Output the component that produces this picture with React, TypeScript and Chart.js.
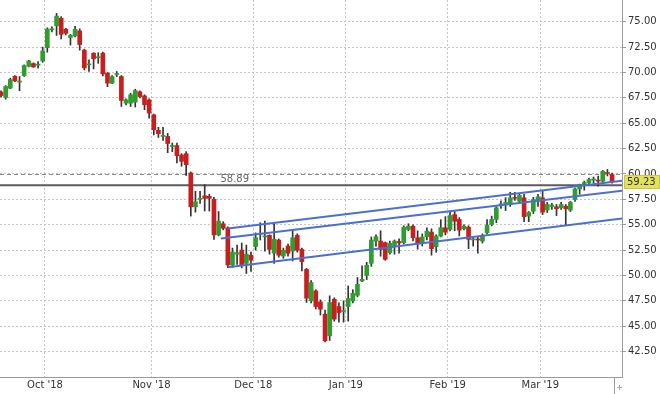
import React, { useEffect, useRef } from "react";
import { Chart, registerables } from "chart.js";

Chart.register(...registerables);

// ---- Data (daily candles, index = trading day) ----
const openP = [
  68.06, 67.54, 68.45, 69.63, 69.05, 69.7, 70.62, 70.88, 70.72, 71.14,
  72.45, 74.2, 74.6, 75.35, 74.25, 73.45, 73.6, 74.1, 72.2, 70.75,
  71.9, 71.45, 71.9, 69.93, 68.95, 69.8, 69.6, 66.98, 66.98, 67.08,
  68.1, 67.7, 67.3, 65.83, 64.3, 63.7, 63.7, 62.7, 62.8, 61.88,
  62.0, 60.1, 56.77, 57.5, 57.85, 57.8, 57.5, 54.0, 55.1, 54.7,
  51.03, 52.1, 52.5, 51.2, 52.0, 52.84, 54.05, 53.8, 53.97, 52.2,
  53.49, 51.92, 52.9, 52.41, 53.95, 52.57, 50.6, 47.5, 48.48, 47.4,
  46.19, 44.06, 47.66, 46.94, 46.45, 46.94, 47.5, 48.05, 49.46, 50.02,
  51.2, 53.39, 53.39, 53.23, 52.25, 52.9, 53.35, 53.23, 54.54, 54.86,
  53.72, 53.23, 53.82, 54.27, 52.84, 53.88, 54.71, 54.54, 56.0, 55.52,
  54.6, 54.76, 53.5, 53.6, 53.39, 54.21, 55.03, 55.52, 56.95, 57.1,
  57.0, 57.7, 57.32, 57.65, 55.85, 56.34, 57.32, 57.65, 56.45, 56.8,
  56.77, 56.67, 56.83, 56.44, 57.49, 58.53, 59.05, 59.13, 59.4, 59.4,
  59.29, 60.15, 59.94,
];
const highP = [
  68.2, 68.7, 69.44, 69.7, 69.6, 70.75, 71.2, 70.95, 71.07, 72.5,
  74.4, 74.5, 75.82, 75.5, 74.35, 73.75, 74.55, 74.3, 72.3, 71.25,
  71.95, 71.95, 72.0, 70.0, 69.7, 70.1, 69.7, 67.4, 67.95, 68.35,
  68.2, 67.8, 67.4, 65.9, 64.6, 64.6, 64.0, 63.05, 63.05, 62.0,
  62.2, 60.2, 58.3, 58.3, 58.95, 58.0, 57.7, 56.3, 55.3, 54.8,
  52.7, 53.0, 53.2, 53.0, 52.3, 54.2, 55.2, 55.35, 54.0, 55.1,
  53.6, 52.7, 53.1, 54.4, 54.1, 52.7, 50.7, 49.5, 48.6, 47.6,
  46.6, 48.0, 47.8, 47.3, 47.5, 48.97, 48.6, 49.8, 50.95, 51.3,
  53.8, 54.0, 54.4, 53.3, 53.4, 53.5, 53.6, 54.9, 55.1, 55.0,
  54.4, 54.1, 54.7, 54.6, 54.0, 55.5, 55.8, 56.34, 56.3, 55.7,
  55.0, 54.9, 53.8, 53.8, 54.1, 55.5, 55.85, 56.8, 57.35, 57.67,
  58.2, 58.2, 58.1, 58.0, 56.3, 57.7, 58.0, 58.3, 57.2, 57.1,
  57.0, 57.2, 57.0, 57.3, 58.6, 59.0, 59.3, 59.6, 59.7, 59.8,
  60.35, 60.45, 60.1,
];
const lowP = [
  67.6, 67.37, 68.4, 69.1, 68.2, 69.6, 70.55, 70.5, 70.42, 71.0,
  72.0, 74.0, 73.65, 73.3, 73.7, 72.7, 73.5, 72.2, 70.25, 70.1,
  70.35, 70.9, 69.65, 68.6, 68.9, 69.6, 66.65, 66.8, 66.65, 66.6,
  67.5, 66.33, 65.5, 63.85, 63.6, 63.3, 62.1, 62.2, 61.1, 60.76,
  59.85, 55.85, 56.24, 57.1, 56.35, 56.35, 53.55, 53.9, 54.5, 50.78,
  50.8, 51.1, 50.75, 50.2, 50.4, 52.5, 53.5, 52.4, 52.1, 51.2,
  51.8, 51.7, 51.9, 51.43, 52.3, 50.45, 47.34, 47.3, 46.7, 46.1,
  43.45, 43.6, 45.5, 45.4, 45.4, 45.5, 47.3, 47.9, 49.4, 49.6,
  50.9, 52.9, 51.9, 51.5, 52.1, 52.1, 52.2, 53.1, 54.4, 53.4,
  52.6, 52.9, 53.5, 52.0, 52.3, 53.8, 54.0, 54.4, 54.4, 53.9,
  54.5, 52.64, 52.9, 52.2, 53.2, 54.1, 54.9, 55.2, 56.6, 56.4,
  56.8, 57.4, 57.2, 55.3, 55.3, 56.1, 56.8, 56.0, 56.2, 56.5,
  55.9, 56.5, 54.93, 56.3, 57.3, 58.0, 58.4, 58.9, 59.1, 58.8,
  59.2, 59.8, 59.1,
];
const closeP = [
  67.73, 68.62, 69.31, 69.17, 69.12, 70.68, 71.14, 70.55, 70.78, 72.12,
  74.28, 74.3, 75.56, 73.76, 73.86, 73.65, 74.25, 72.75, 70.45, 70.85,
  71.35, 71.55, 69.86, 68.95, 69.6, 69.9, 67.24, 67.31, 67.8, 68.22,
  67.63, 66.82, 66.0, 64.36, 63.97, 63.8, 63.0, 62.8, 61.8, 61.25,
  60.92, 56.77, 57.26, 57.6, 57.6, 57.6, 54.0, 55.35, 54.65, 51.03,
  52.31, 52.25, 51.03, 52.1, 51.5, 53.72, 54.15, 53.9, 52.57, 53.58,
  52.0, 52.48, 52.2, 53.72, 52.48, 51.37, 47.76, 49.3, 46.94, 46.68,
  43.57, 47.34, 45.7, 46.35, 46.55, 47.73, 48.25, 49.13, 49.62, 51.0,
  53.49, 53.82, 52.57, 51.59, 53.16, 53.39, 53.2, 54.76, 54.86, 53.72,
  53.23, 53.79, 54.37, 52.64, 53.88, 54.71, 54.27, 55.91, 55.35, 54.47,
  54.86, 53.56, 53.6, 53.5, 53.95, 54.93, 55.52, 56.67, 57.05, 57.2,
  57.65, 57.6, 57.88, 55.8, 56.2, 57.49, 57.75, 56.24, 57.0, 56.95,
  56.57, 57.0, 56.57, 57.2, 58.53, 58.96, 59.15, 59.45, 59.5, 59.29,
  60.27, 60.05, 59.23,
];

// Month boundaries (position on the trading-day index axis) and labels
const monthTickPos = [9.5, 32.5, 54.5, 74.5, 96.5, 116.5];
const monthLabels = ["Oct '18", "Nov '18", "Dec '18", "Jan '19", "Feb '19", "Mar '19"];

// Price ticks
const yTickValues = [42.5, 45, 47.5, 50, 52.5, 55, 57.5, 60, 62.5, 65, 67.5, 70, 72.5, 75];

// Reference levels
const dashedLevel = 60.0;
const supportLevel = 58.89;
const lastPrice = 59.23;

// Trend channel lines: [startIndex, startPrice], [endIndex, endPrice]
const channelUpper = [[49.0, 54.64], [134.4, 59.35]];
const channelMiddle = [[47.5, 53.65], [134.4, 58.37]];
const channelLower = [[49.0, 50.81], [134.4, 55.62]];

const FONT = "DejaVu Sans";

export default function App() {
  const canvasRef = useRef<HTMLCanvasElement | null>(null);

  useEffect(() => {
    const canvas = canvasRef.current;
    if (!canvas) return;

    const wickData = openP.map((_, i) => ({ x: i, y: [lowP[i], highP[i]] }));
    const bodyData = openP.map((o, i) => ({ x: i, y: [o, closeP[i]] }));
    const bodyColors = openP.map((o, i) => (closeP[i] >= o ? "#2f9e2f" : "#c81e1e"));
    const toLine = (pts: number[][]) => pts.map((p) => ({ x: p[0], y: p[1] }));

    const overlay = {
      id: "overlay",
      beforeDatasetsDraw(chart: any) {
        const { ctx, chartArea } = chart;
        const y = chart.scales.y;
        ctx.save();
        ctx.beginPath();
        ctx.rect(chartArea.left, chartArea.top, chartArea.right - chartArea.left, chartArea.bottom - chartArea.top);
        ctx.clip();
        // dashed level
        const yd = Math.round(y.getPixelForValue(dashedLevel)) + 0.5;
        ctx.strokeStyle = "#8a8a8a";
        ctx.lineWidth = 1;
        ctx.setLineDash([4, 3]);
        ctx.beginPath();
        ctx.moveTo(chartArea.left, yd);
        ctx.lineTo(chartArea.right, yd);
        ctx.stroke();
        // solid support level
        const ys = y.getPixelForValue(supportLevel);
        ctx.setLineDash([]);
        ctx.strokeStyle = "#5c5c5c";
        ctx.lineWidth = 2;
        ctx.beginPath();
        ctx.moveTo(chartArea.left, ys);
        ctx.lineTo(chartArea.right, ys);
        ctx.stroke();
        ctx.restore();
      },
      afterDraw(chart: any) {
        const { ctx, chartArea } = chart;
        const x = chart.scales.x;
        const y = chart.scales.y;
        ctx.save();
        // support level label
        const ys = y.getPixelForValue(supportLevel);
        ctx.font = `10px "${FONT}"`;
        ctx.fillStyle = "#666";
        ctx.textAlign = "center";
        ctx.textBaseline = "bottom";
        ctx.fillText(supportLevel.toFixed(2), x.getPixelForValue(50.5), ys - 1);
        // last price tag
        const yl = Math.round(y.getPixelForValue(lastPrice));
        ctx.fillStyle = "#e2e25c";
        ctx.fillRect(chartArea.right + 2, yl - 7, 36, 14);
        ctx.strokeStyle = "#c8c83c";
        ctx.lineWidth = 1;
        ctx.strokeRect(chartArea.right + 2.5, yl - 6.5, 35, 13);
        ctx.fillStyle = "#333";
        ctx.textAlign = "left";
        ctx.textBaseline = "middle";
        ctx.fillText(lastPrice.toFixed(2), chartArea.right + 5, yl + 0.5);
        // small corner control
        ctx.strokeStyle = "#9a9a9a";
        ctx.beginPath();
        ctx.moveTo(chartArea.right - 7.5, chartArea.bottom);
        ctx.lineTo(chartArea.right - 7.5, chartArea.bottom + 17);
        ctx.stroke();
        ctx.strokeStyle = "#aaa";
        ctx.beginPath();
        ctx.moveTo(chartArea.right - 5, chartArea.bottom + 10.5);
        ctx.lineTo(chartArea.right + 0, chartArea.bottom + 10.5);
        ctx.moveTo(chartArea.right - 2.5, chartArea.bottom + 8);
        ctx.lineTo(chartArea.right - 2.5, chartArea.bottom + 13);
        ctx.stroke();
        ctx.restore();
      },
    };

    const lineDs = (pts: number[][]) => ({
      type: "line" as const,
      data: toLine(pts),
      borderColor: "#4a6fd4",
      borderWidth: 2,
      pointRadius: 0,
      fill: false,
      order: 0,
    });

    const chart = new Chart(canvas, {
      type: "bar",
      data: {
        datasets: [
          lineDs(channelUpper) as any,
          lineDs(channelMiddle) as any,
          lineDs(channelLower) as any,
          {
            type: "bar",
            data: bodyData as any,
            backgroundColor: bodyColors,
            borderWidth: 0,
            barThickness: 4,
            minBarLength: 1,
            grouped: false,
            order: 1,
          },
          {
            type: "bar",
            data: wickData as any,
            backgroundColor: "#333333",
            borderWidth: 0,
            barThickness: 1,
            grouped: false,
            order: 2,
          },
        ],
      },
      options: {
        animation: false,
        responsive: false,
        maintainAspectRatio: false,
        layout: { padding: 0 },
        plugins: { legend: { display: false }, tooltip: { enabled: false } },
        scales: {
          x: {
            type: "linear",
            min: -0.22,
            max: 134.15,
            offset: false,
            afterBuildTicks: (s: any) => {
              s.ticks = monthTickPos.map((v) => ({ value: v }));
            },
            afterFit: (s: any) => {
              s.height = 17;
              s.paddingLeft = 0;
              s.paddingRight = 0;
            },
            ticks: {
              autoSkip: false,
              maxRotation: 0,
              padding: 2,
              color: "#333",
              font: { family: FONT, size: 10 },
              callback: (_v: any, i: number) => monthLabels[i],
            },
            grid: { color: "#c4c4c4", drawTicks: false, offset: false },
            border: { display: true, color: "#9a9a9a", dash: [2, 2] },
          },
          y: {
            type: "linear",
            position: "right",
            min: 40.0,
            max: 77.14,
            beginAtZero: false,
            afterBuildTicks: (s: any) => {
              s.ticks = yTickValues.map((v) => ({ value: v }));
            },
            afterFit: (s: any) => {
              s.width = 38;
              s.paddingTop = 0;
              s.paddingBottom = 0;
            },
            ticks: {
              padding: 2,
              color: "#333",
              font: { family: FONT, size: 10 },
              callback: (v: any) => Number(v).toFixed(2),
            },
            grid: { color: "#c4c4c4", tickLength: 4, tickColor: "#9a9a9a" },
            border: { display: true, color: "#9a9a9a", dash: [2, 2] },
          },
        },
      } as any,
      plugins: [overlay],
    });

    return () => chart.destroy();
  }, []);

  return (
    <div style={{ position: "absolute", left: 0, top: 0, width: 660, height: 394, background: "#fff" }}>
      <canvas ref={canvasRef} width={660} height={394} style={{ display: "block" }} />
    </div>
  );
}
